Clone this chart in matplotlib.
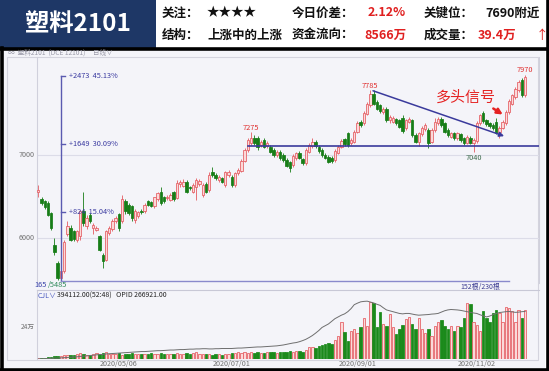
import matplotlib
matplotlib.use("Agg")
import matplotlib.pyplot as plt
from matplotlib.patches import Rectangle
from matplotlib.lines import Line2D

plt.rcParams['font.family'] = ['Noto Sans CJK SC', 'DejaVu Sans']

W, H = 549, 371

# daily bars
opens = [6560, 6470, 6440, 6420, 6300, 5920, 5700, 5520, 5600, 6050,
         6120, 6080, 5980, 6020, 6330, 6150, 6280, 6120, 6100, 6020,
         5800, 5740, 6060, 6110, 6200, 6290, 6200, 6440, 6400, 6390,
         6220, 6260, 6320, 6320, 6440, 6430, 6380, 6470, 6560, 6490,
         6480, 6460, 6550, 6480, 6650, 6630, 6680, 6610, 6560, 6620,
         6650, 6520, 6650, 6580, 6800, 6760, 6700, 6720, 6640, 6760,
         6740, 6640, 6780, 6810, 6930, 7060, 7140, 7200, 7200, 7120,
         7180, 7110, 7100, 7060, 7000, 7040, 7000, 6940, 6910, 6880,
         6960, 7030, 6950, 6900, 7040, 7110, 7160, 7100, 7060, 7000,
         6980, 6970, 6940, 7030, 7100, 7190, 7260, 7140, 7160, 7280,
         7400, 7380, 7500, 7600, 7740, 7640, 7600, 7520, 7560, 7420,
         7400, 7430, 7420, 7450, 7320, 7400, 7420, 7240, 7160, 7250,
         7310, 7300, 7160, 7300, 7380, 7440, 7380, 7300, 7220, 7260,
         7200, 7250, 7200, 7150, 7210, 7140, 7170, 7380, 7510, 7420,
         7380, 7360, 7400, 7280, 7330, 7380, 7520, 7620, 7700, 7780,
         7900, 7720]
closes = [6580, 6420, 6370, 6280, 6120, 5830, 5520, 5600, 5950, 6140,
          5980, 5990, 6080, 6320, 6180, 6240, 6200, 6160, 6120, 5860,
          5720, 6080, 6120, 6200, 6240, 6120, 6470, 6320, 6300, 6240,
          6330, 6310, 6310, 6400, 6400, 6390, 6490, 6540, 6420, 6440,
          6500, 6520, 6470, 6660, 6670, 6680, 6560, 6600, 6640, 6700,
          6690, 6640, 6560, 6760, 6760, 6720, 6740, 6680, 6790, 6800,
          6640, 6780, 6820, 6930, 7060, 7180, 7200, 7140, 7100, 7160,
          7100, 7150, 7040, 7000, 7040, 6960, 6940, 6870, 6840, 6990,
          7020, 6970, 6900, 7060, 7120, 7160, 7110, 7050, 7000, 6970,
          6920, 6930, 7050, 7100, 7170, 7130, 7120, 7180, 7280, 7390,
          7360, 7510, 7620, 7740, 7620, 7560, 7530, 7560, 7420, 7460,
          7450, 7380, 7340, 7290, 7420, 7440, 7240, 7160, 7260, 7330,
          7360, 7150, 7300, 7400, 7440, 7360, 7280, 7240, 7260, 7200,
          7260, 7180, 7140, 7220, 7150, 7180, 7390, 7480, 7410, 7370,
          7350, 7320, 7270, 7330, 7400, 7520, 7650, 7720, 7800, 7880,
          7720, 7940]
highs = [6640, 6490, 6460, 6450, 6310, 6000, 5720, 5640, 5980, 6200,
         6160, 6100, 6100, 6340, 6560, 6280, 6300, 6180, 6140, 6040,
         5820, 6100, 6150, 6230, 6260, 6300, 6520, 6470, 6420, 6400,
         6350, 6330, 6350, 6420, 6460, 6450, 6500, 6560, 6620, 6510,
         6520, 6540, 6570, 6700, 6700, 6710, 6700, 6630, 6660, 6720,
         6710, 6660, 6670, 6800, 6850, 6780, 6760, 6740, 6810, 6820,
         6760, 6800, 6840, 6950, 7080, 7200, 7275, 7240, 7230, 7180,
         7200, 7170, 7120, 7080, 7060, 7060, 7020, 6960, 6930, 7010,
         7040, 7050, 6970, 7080, 7140, 7210, 7180, 7120, 7080, 7020,
         7000, 6990, 7070, 7120, 7190, 7210, 7280, 7200, 7300, 7410,
         7420, 7530, 7640, 7785, 7780, 7660, 7620, 7580, 7580, 7480,
         7470, 7450, 7440, 7480, 7440, 7460, 7440, 7260, 7280, 7350,
         7380, 7320, 7320, 7450, 7460, 7460, 7400, 7320, 7280, 7280,
         7280, 7270, 7220, 7240, 7230, 7200, 7410, 7500, 7530, 7440,
         7400, 7380, 7450, 7350, 7420, 7540, 7670, 7740, 7820, 7900,
         7930, 7970]
lows = [6500, 6400, 6350, 6260, 6100, 5790, 5500, 5485, 5580, 6020,
        5960, 5970, 5950, 5980, 6150, 6110, 6180, 6050, 6080, 5840,
        5640, 5720, 6040, 6090, 6180, 6080, 6180, 6290, 6280, 6200,
        6180, 6240, 6290, 6300, 6380, 6370, 6360, 6450, 6400, 6420,
        6460, 6440, 6450, 6470, 6620, 6610, 6540, 6580, 6540, 6460,
        6630, 6500, 6540, 6560, 6740, 6700, 6680, 6660, 6620, 6740,
        6620, 6620, 6760, 6790, 6910, 7040, 7120, 7120, 7060, 7100,
        7080, 7090, 7020, 6980, 6980, 6940, 6920, 6850, 6800, 6860,
        6940, 6950, 6880, 6880, 7020, 7090, 7090, 7030, 6980, 6950,
        6900, 6900, 6920, 7010, 7080, 7110, 7100, 7120, 7140, 7260,
        7340, 7360, 7480, 7580, 7600, 7540, 7510, 7500, 7400, 7380,
        7380, 7360, 7320, 7270, 7300, 7380, 7220, 7140, 7110, 7230,
        7290, 7080, 7140, 7280, 7360, 7340, 7260, 7220, 7200, 7180,
        7180, 7160, 7120, 7130, 7130, 7040, 7150, 7360, 7390, 7350,
        7330, 7300, 7250, 7200, 7310, 7360, 7500, 7600, 7680, 7760,
        7700, 7700]

# volume and open interest, in 10k lots
volumes = [0.5, 0.8, 1.0, 1.3, 1.6, 2.0, 2.2, 2.5, 2.8,
           3.0, 3.2, 3.0, 3.5, 4.5, 3.8, 3.4, 2.8, 3.5, 4.6, 3.9,
           4.2, 5.0, 3.8, 3.5, 3.9, 4.5, 3.4, 3.7, 3.9, 4.3, 3.6, 3.8, 4.1, 3.5, 3.9, 4.4, 3.7, 4.0, 4.2, 3.6,
           3.9, 4.1, 3.8, 4.4, 3.7, 4.0, 4.8, 3.9, 4.2, 5.0, 4.1, 3.6, 4.0, 3.5, 3.2, 3.8, 4.1, 3.3, 3.6, 4.0,
           4.3, 4.8, 5.2, 4.6, 5.0, 4.8, 5.5, 4.9, 5.2, 4.8, 4.5, 5.3, 5.0, 5.4, 4.9, 5.1, 5.6, 5.0, 5.8, 5.5, 6.0,
           6.0, 5.5, 6.7, 8.8, 9.3, 8.0, 10.0, 10.7, 11.0, 12.0, 11.5, 14.7, 17.3, 28.0, 20.5, 13.3, 21.0, 23.0, 20.0,
           24.0, 31.0, 25.0, 43.5, 42.7, 24.0, 35.5, 26.7, 25.0, 34.0, 24.0, 18.7, 22.7, 26.0, 30.0, 32.0, 26.7, 22.7, 30.7, 22.7,
           20.0, 22.7, 17.3, 25.0, 28.0, 29.3, 25.3, 22.7, 25.3, 21.3, 25.3, 24.0, 31.0, 42.7, 41.3, 28.0, 25.9, 21.3, 36.0, 30.7,
           28.0, 34.7, 37.3, 34.7, 28.0, 39.2, 38.7, 36.0, 28.0, 37.3, 30.7, 37.3]
open_interest = [5.0, 5.1, 5.1, 5.2, 5.3, 5.4, 5.4, 5.5, 5.6, 5.7,
                 5.8, 5.9, 6.0, 6.2, 6.3, 6.4, 6.6, 6.7, 6.9, 7.0,
                 7.1, 7.3, 7.4, 7.5, 7.6, 7.7, 7.8, 7.9, 8.0, 8.1,
                 8.2, 8.3, 8.4, 8.4, 8.5, 8.6, 8.7, 8.8, 8.8, 8.9,
                 9.0, 9.1, 9.1, 9.2, 9.3, 9.3, 9.4, 9.5, 9.5, 9.6,
                 9.6, 9.7, 9.7, 9.6, 9.6, 9.7, 9.7, 9.8, 9.8, 9.8,
                 9.8, 9.9, 10.0, 10.0, 10.1, 10.2, 10.3, 10.4, 10.5, 10.5,
                 10.6, 10.7, 10.8, 10.9, 11.0, 11.2, 11.4, 11.7, 12.0, 12.3,
                 12.5, 12.9, 13.4, 14.0, 14.8, 15.7, 16.8, 18.0, 19.4, 20.2,
                 21.0, 22.2, 23.4, 24.2, 25.0, 25.6, 26.6, 28.0, 29.8, 30.5,
                 31.1, 31.3, 31.4, 31.0, 30.6, 30.0, 29.5, 28.4, 27.4, 27.0,
                 26.6, 26.2, 25.8, 25.6, 25.8, 25.8, 25.5, 25.2, 25.0, 25.1,
                 25.2, 25.3, 25.5, 25.6, 25.8, 26.4, 27.0, 27.4, 27.6, 27.5,
                 27.4, 27.2, 26.9, 26.6, 26.3, 26.0, 25.8, 25.2, 24.7, 24.2,
                 24.6, 25.2, 25.8, 26.2, 26.4, 26.6, 26.7, 26.5, 26.3, 26.4,
                 26.6, 26.7]

date_idx = [25, 60, 99, 136]
date_labels = ['2020/05/06', '2020/07/01', '2020/09/01', '2020/11/02']

low_idx, low_price = 7, 5485
peak_idx, peak_price = 103, 7785
support_price = 7110
fib_moves = [2473, 1649, 824]
fib_pcts = ['45.13%', '30.09%', '15.04%']

UP_EDGE = '#e45a60'
UP_FILL = '#fbd9d9'
DOWN = '#177d17'
NAVY = '#3a3a9c'


def fx(x):
    return x / W


def fy(y):
    return 1 - y / H


def ptext(x, y, s, **kw):
    fig.text(fx(x), fy(y), s, **kw)


fig = plt.figure(figsize=(W / 100, H / 100), dpi=100)
fig.patch.set_facecolor('white')

# chart background and frames (behind the axes)
fig.patches.append(Rectangle((fx(3), fy(368)), fx(542), 318 / H, transform=fig.transFigure,
                             facecolor='#f4f4f9', edgecolor='none', zorder=-3))
fig.patches.append(Rectangle((fx(7), fy(360)), fx(531), 303 / H, transform=fig.transFigure,
                             facecolor='none', edgecolor='#d4d4de', lw=0.8, zorder=-2))

# header
fig.patches.append(Rectangle((0, fy(48)), fx(156), 48 / H, transform=fig.transFigure,
                             facecolor='#1e3766', edgecolor='none', zorder=2))
ptext(78, 24, '塑料2101', color='white', fontsize=17.5, fontweight='bold', ha='center', va='center')
hdr = dict(fontsize=9.0, fontweight='bold', va='center', color='#111111')
ptext(162, 13, '关注：', **hdr)
ptext(207, 13, '★★★★', **hdr)
ptext(292, 13, '今日价差：', **hdr)
ptext(368, 13, '2.12%', **dict(hdr, color='#e02020'))
ptext(424, 13, '关键位：', **hdr)
ptext(485, 13, '7690附近', **hdr)
ptext(162, 35, '结构：', **hdr)
ptext(207, 35, '上涨中的上涨', **hdr)
ptext(292, 35, '资金流向：', **hdr)
ptext(364, 35, '8566万', **dict(hdr, color='#e02020'))
ptext(424, 35, '成交量：', **hdr)
ptext(478, 35, '39.4万', **dict(hdr, color='#e02020'))
ptext(536, 35, '↑', **dict(hdr, color='#e02020', fontweight='normal'))

# black outer frame
for seg in [((0, 549), (48.5, 48.5)), ((1.5, 1.5), (48, 371)), ((547.5, 547.5), (0, 371)),
            ((0, 549), (369.5, 369.5))]:
    fig.lines.append(Line2D([fx(v) for v in seg[0]], [fy(v) for v in seg[1]],
                            transform=fig.transFigure, color='black', lw=2.6, zorder=3))

ptext(8, 52.5, '∞  塑料2101  (DCE 12101)     日线∨', fontsize=4.8, color='#9a9aa8', va='center')

# ---------- price panel ----------
ax = fig.add_axes([fx(37), fy(283), fx(502), 226 / H])
ax.set_facecolor('none')
ax.set_xlim(-0.4, 155.3)
ax.set_ylim(5458, 8181)
for sp in ['top', 'bottom']:
    ax.spines[sp].set_visible(False)
ax.spines['left'].set_color('#d0d0dc')
ax.spines['right'].set_color('#d0d0dc')
ax.spines['left'].set_linewidth(0.8)
ax.spines['right'].set_linewidth(0.8)
ax.set_xticks([])
ax.set_yticks([])
for lvl in [7000, 6000]:
    ax.axhline(lvl, color='#dcdce8', lw=0.8, zorder=0)
    ax.text(-1.0, lvl, str(lvl), fontsize=5.2, color='#707070', ha='right', va='center', clip_on=False)

for i in range(len(closes)):
    o, c, h, l = opens[i], closes[i], highs[i], lows[i]
    if c >= o:
        edge, face = UP_EDGE, UP_FILL
    else:
        edge, face = DOWN, DOWN
    ax.vlines(i, l, h, color=edge, lw=0.6, zorder=2)
    ax.bar(i, max(abs(c - o), 10), bottom=min(o, c), width=0.75, facecolor=face,
           edgecolor=edge, lw=0.55, zorder=3)

# measuring tool from the low
top_price = low_price + fib_moves[0]
ax.plot([low_idx, low_idx], [low_price, top_price], color='#5a5ab0', lw=1.0, zorder=4)
ax.plot([low_idx, 146], [low_price, low_price], color='#8a8acc', lw=1.0, zorder=4)
for mv, pct in zip(fib_moves, fib_pcts):
    ax.plot([low_idx, low_idx + 1.3], [low_price + mv, low_price + mv], color='#5a5ab0', lw=1.0, zorder=4)
    ax.text(low_idx + 2.4, low_price + mv, f'+{mv}  {pct}', fontsize=5.3, color='#3a3aa0',
            va='center', zorder=5)

# support line and falling trend line
ax.plot([65, 155.3], [support_price, support_price], color=NAVY, lw=1.2, zorder=4)
ax.annotate('', xy=(145.3, 7217), xytext=(peak_idx, peak_price),
            arrowprops=dict(arrowstyle='-|>', color=NAVY, lw=1.1, mutation_scale=7), zorder=5)

ax.text(66, 7330, '7275', fontsize=5.3, color='#e03030', ha='center', va='center')
ax.text(peak_idx, 7835, '7785', fontsize=5.3, color='#e03030', ha='center', va='center')
ax.text(151, 8028, '7970', fontsize=5.3, color='#e03030', ha='center', va='center')
ax.text(135, 6962, '7040', fontsize=5.3, color='#3d6b4d', ha='center', va='center')

ax.text(132.5, 7690, '多头信号', fontsize=10.8, color='#e52222', ha='center', va='center')
ax.annotate('', xy=(144.8, 7470), xytext=(140.4, 7578),
            arrowprops=dict(arrowstyle='-|>', color='#e52222', lw=1.8, mutation_scale=8))

ptext(34, 285, '165', fontsize=5.3, color='#3a44aa', va='center')
ptext(48, 285, '/5485', fontsize=5.3, color='#2f8a5a', va='center')
ptext(500, 287, '152根/230根', fontsize=5.0, color='#3a3a90', va='center', ha='right')

# ---------- volume panel ----------
axv = fig.add_axes([fx(37), fy(359), fx(502), 69 / H])
axv.set_facecolor('none')
axv.set_xlim(-0.4, 155.3)
axv.set_ylim(0, 52.2)
for sp in ['right', 'bottom']:
    axv.spines[sp].set_visible(False)
axv.spines['left'].set_color('#d0d0dc')
axv.spines['top'].set_color('#c8c8d6')
axv.spines['left'].set_linewidth(0.8)
axv.spines['top'].set_linewidth(0.8)
axv.set_yticks([])
axv.set_xticks(date_idx)
axv.set_xticklabels(date_labels, fontsize=5.2, color='#707070')
axv.tick_params(axis='x', length=0, pad=0.5)
axv.text(-1.0, 24, '24万', fontsize=4.8, color='#707070', ha='right', va='center', clip_on=False)

for i in range(len(volumes)):
    if closes[i] >= opens[i]:
        axv.bar(i, volumes[i], width=0.75, facecolor=UP_FILL, edgecolor=UP_EDGE, lw=0.55, zorder=2)
    else:
        axv.bar(i, volumes[i], width=0.75, facecolor='#1b8a1b', edgecolor='#1b8a1b', lw=0.55, zorder=2)

axo = axv.twinx()
axo.set_ylim(5, 36.5)
axo.plot(range(len(open_interest)), open_interest, color='#6e6e6e', lw=0.7, zorder=3)
axo.axis('off')

ptext(38, 295.5, 'CJL∨', fontsize=5.0, color='#4a5ac0', va='center')
ptext(57, 295.5, '394112.00(52:48)   OPID 266921.00', fontsize=5.0, color='#222222', va='center')

fig.savefig('out.png', dpi=100)
